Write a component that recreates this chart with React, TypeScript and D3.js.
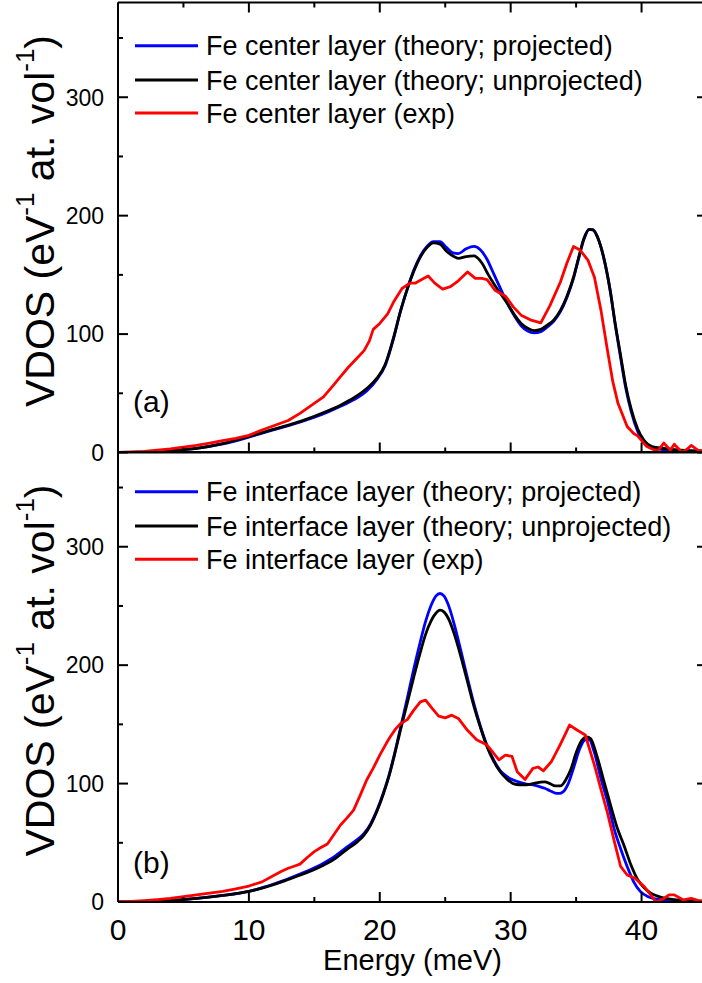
import React from "react";
import * as d3 from "d3";

// ---------- DATA (Energy meV, VDOS) ----------
const centerProjected: [number, number][] = [
  [0, 0], [2, 0.3], [4, 1.5], [6, 3.5], [8, 7.2], [10, 13], [12, 19.5], [14, 26], [16, 34], [17, 39],
  [18, 44.5], [19, 52], [19.8, 62], [20.4, 73], [21, 94], [21.6, 120], [22.1, 138], [22.6, 154],
  [23.1, 166], [23.6, 174], [24.1, 178], [24.6, 178], [25.1, 173], [25.6, 168.5], [26.0, 168],
  [26.6, 172], [27.2, 174], [27.7, 171], [28.2, 163], [28.7, 151], [29.2, 139], [29.7, 127],
  [30.3, 115], [30.8, 107], [31.3, 102.5], [31.8, 101], [32.3, 102], [32.8, 106], [33.3, 111],
  [33.8, 119], [34.3, 131], [34.8, 147], [35.2, 164], [35.6, 180], [36.0, 188.5], [36.3, 188],
  [36.7, 180], [37.1, 165], [37.6, 137], [38.0, 107], [38.4, 80], [38.8, 54], [39.2, 35],
  [39.7, 18], [40.2, 8], [40.8, 4], [41.7, 2.5], [43, 1.5], [45, 1],
];
const centerUnprojected: [number, number][] = [
  [0, 0], [2, 0.3], [4, 1.5], [6, 3.5], [8, 7.5], [10, 13.5], [12, 20], [14, 26.5], [16, 35], [17, 40],
  [18, 46], [19, 54], [19.8, 63], [20.4, 74], [21, 95], [21.6, 120], [22.1, 138], [22.6, 153],
  [23.1, 165], [23.6, 173], [24.1, 177], [24.6, 176], [25.1, 170], [25.6, 166], [26.0, 164],
  [26.6, 165.5], [27.2, 166], [27.8, 160], [28.3, 150], [28.8, 141], [29.3, 133], [29.8, 125],
  [30.3, 116], [30.8, 109], [31.3, 105], [31.8, 103], [32.3, 104], [32.8, 107.5], [33.3, 112],
  [33.8, 120], [34.3, 132], [34.8, 148], [35.2, 165], [35.6, 181], [36.0, 188.5], [36.3, 188],
  [36.7, 180], [37.1, 165], [37.6, 137], [38.0, 108], [38.4, 82], [38.8, 56], [39.2, 37],
  [39.7, 20], [40.2, 10], [40.8, 5], [41.7, 3.5], [43, 2], [45, 1],
];
const centerExp: [number, number][] = [
  [0, 0], [1, 0.5], [2, 1], [3, 2], [4, 3], [5, 4.5], [6, 6], [7, 8], [8, 10], [9, 12], [10, 14.5],
  [11, 19], [12, 23], [13, 27], [13.9, 33], [14.8, 40], [15.7, 47], [16.4, 56], [17, 64], [17.6, 72],
  [18.2, 79], [18.8, 86], [19.2, 94], [19.5, 104], [20.0, 109], [20.6, 117], [21.1, 128],
  [21.7, 138.5], [22.3, 143], [22.7, 143], [23.2, 146], [23.7, 149], [24.2, 143], [24.8, 138],
  [25.4, 140], [26.0, 145], [26.7, 152.5], [27.3, 147], [27.8, 147], [28.2, 146], [28.8, 137],
  [29.6, 132], [30.2, 123], [30.8, 116], [31.5, 112], [32.3, 109.5], [33.0, 124], [33.8, 144],
  [34.3, 160], [34.8, 174], [35.3, 171], [35.9, 162.5], [36.4, 148], [36.9, 120], [37.4, 86],
  [37.8, 60], [38.2, 41.5], [38.9, 22], [39.4, 16], [39.7, 14], [40.4, 5], [41.2, 1], [41.7, 8],
  [42.2, 2], [42.5, 7], [43.1, 0], [43.5, 3], [43.8, 6], [44.3, 2], [45, 1],
];

const interfaceProjected: [number, number][] = [
  [0, 0], [2, 0.3], [4, 1.2], [6, 3], [8, 5.5], [10, 9], [12, 15.5], [14, 24], [15.5, 31.5],
  [16.5, 38], [17.5, 46.5], [18.3, 53], [18.8, 58], [19.3, 66], [19.8, 78], [20.3, 93], [20.7, 107],
  [21.1, 124], [21.6, 148], [22.1, 172], [22.6, 197], [23.1, 220], [23.5, 237], [23.9, 250],
  [24.3, 258.5], [24.6, 260.5], [24.9, 258.5], [25.3, 249], [25.7, 234], [26.2, 212], [26.7, 189],
  [27.2, 167], [27.7, 148], [28.2, 132], [28.7, 120], [29.2, 111], [29.7, 106], [30.2, 103],
  [30.7, 101], [31.2, 99.5], [31.7, 99], [32.2, 97.5], [32.6, 96], [33.0, 94], [33.4, 92],
  [33.7, 91.7], [34.0, 93], [34.4, 100], [34.8, 113], [35.3, 130], [35.7, 137], [36.0, 137],
  [36.4, 126], [36.9, 104], [37.4, 85], [37.9, 62], [38.4, 45], [38.9, 30], [39.4, 17], [39.9, 9],
  [40.5, 4.5], [41.5, 2], [42.5, 1], [45, 0.3],
];
const interfaceUnprojected: [number, number][] = [
  [0, 0], [2, 0.3], [4, 1.2], [6, 3], [8, 5.5], [10, 9], [12, 15], [13, 19], [14, 23], [15.5, 30],
  [16.5, 36], [17.5, 44.5], [18.3, 51], [18.8, 56.5], [19.3, 65], [19.8, 77], [20.3, 92], [20.7, 106],
  [21.1, 123], [21.6, 146], [22.1, 168], [22.6, 190], [23.1, 211], [23.5, 226], [23.9, 237],
  [24.3, 244], [24.6, 246.5], [24.9, 245], [25.3, 238], [25.7, 226], [26.2, 207], [26.7, 186],
  [27.2, 165], [27.7, 147], [28.2, 131], [28.7, 119], [29.2, 110], [29.7, 104], [30.2, 100],
  [30.7, 99], [31.2, 99], [31.7, 100], [32.2, 101], [32.6, 101.5], [33.0, 100], [33.4, 98],
  [33.8, 98], [34.2, 103], [34.6, 112], [35.0, 126], [35.4, 136], [35.8, 139.5], [36.1, 138],
  [36.6, 123], [37.1, 103], [37.6, 83], [38.1, 64], [38.7, 46.5], [39.2, 31], [39.7, 19],
  [40.2, 12], [40.7, 7.5], [41.5, 4], [42.5, 2], [45, 0.5],
];
const interfaceExp: [number, number][] = [
  [0, 0], [1, 0.5], [2, 1.2], [3, 2], [4, 3], [5, 4.5], [6, 6], [7, 7.5], [8, 9], [9, 11], [10, 13.5],
  [11, 17], [12, 23], [12.5, 26], [13, 28.5], [13.4, 30], [13.9, 32], [14.5, 38], [15.0, 42.5],
  [15.5, 46], [16.0, 49], [16.5, 57], [17.0, 65], [17.5, 71], [18.0, 77.6], [18.5, 90], [19.0, 103],
  [19.5, 113], [20.0, 124], [20.5, 134], [20.8, 139.5], [21.2, 146], [21.6, 150.8], [22.1, 154],
  [22.6, 162], [23.1, 169], [23.5, 170.5], [24.0, 163.5], [24.5, 157], [25.0, 155.5], [25.5, 157.8],
  [26.0, 155], [26.7, 145], [27.4, 137], [28.2, 132.5], [28.6, 127], [29.1, 120], [29.6, 124],
  [30.1, 123], [30.5, 110], [31.1, 103.5], [31.7, 112.8], [32.1, 114], [32.5, 110.8], [33.1, 118.4],
  [33.7, 131], [34.1, 140], [34.5, 149.4], [35.1, 145], [35.7, 141], [36.4, 115.6], [36.9, 95],
  [37.4, 75], [37.9, 52], [38.4, 30], [38.9, 22.8], [39.5, 20], [40.2, 13], [40.7, 6], [41.1, 0],
  [41.7, 3], [42.1, 6], [42.5, 6], [43.2, 1.7], [43.8, 3], [44.4, 1], [45, 1],
];

const xMajorTicks = [0, 10, 20, 30, 40];
const xMinorTicks = [5, 15, 25, 35, 45];
const yMajorTicks = [0, 100, 200, 300];
const yMinorTicks = [50, 150, 250, 350];

const topLegend = [
  "Fe center layer (theory; projected)",
  "Fe center layer (theory; unprojected)",
  "Fe center layer (exp)",
];
const bottomLegend = [
  "Fe interface layer (theory; projected)",
  "Fe interface layer (theory; unprojected)",
  "Fe interface layer (exp)",
];
const colors = ["#0000ff", "#000000", "#ff0000"];

// ---------- LAYOUT ----------
const W = 702;
const H = 983;
const L = 118;
const R = 707;
const FONT = "'Liberation Sans', Arial, Helvetica, sans-serif";

const x = d3.scaleLinear().domain([0, 45]).range([L, R]);

type PanelProps = {
  y: d3.ScaleLinear<number, number>;
  series: [number, number][][];
  legend: string[];
  legendY: number[];
  tag: string;
  tagY: number;
  titleY: number;
  topTicks: boolean;
  id: string;
};

function Panel({ y, series, legend, legendY, tag, tagY, titleY, topTicks, id }: PanelProps) {
  const [y0, y1] = y.range();
  const smooth = d3.line<[number, number]>().x((d) => x(d[0])).y((d) => y(d[1])).curve(d3.curveMonotoneX);
  const jagged = d3.line<[number, number]>().x((d) => x(d[0])).y((d) => y(d[1]));
  const ax = { stroke: "#000", strokeWidth: 2 };
  return (
    <g>
      <defs>
        <clipPath id={id}>
          <rect x={L} y={y1} width={R - L} height={y0 - y1} />
        </clipPath>
      </defs>
      <g clipPath={`url(#${id})`} fill="none" strokeWidth={2.8} strokeLinejoin="round">
        <path d={smooth(series[0]) || ""} stroke={colors[0]} />
        <path d={smooth(series[1]) || ""} stroke={colors[1]} />
        <path d={jagged(series[2]) || ""} stroke={colors[2]} />
      </g>
      {/* frame */}
      <line x1={L} x2={L} y1={y0} y2={y1} {...ax} />
      <line x1={L} x2={R} y1={y0} y2={y0} {...ax} />
      <line x1={L} x2={R} y1={y1} y2={y1} {...ax} />
      <line x1={R} x2={R} y1={y0} y2={y1} {...ax} />
      {/* y ticks */}
      {yMajorTicks.map((t) => (
        <g key={"ym" + t}>
          <line x1={L} x2={L + 10} y1={y(t)} y2={y(t)} {...ax} />
          <line x1={R} x2={R - 10} y1={y(t)} y2={y(t)} {...ax} />
          <text x={104} y={y(t)} dy="0.36em" textAnchor="end" fontSize={23} fontFamily={FONT}>
            {t}
          </text>
        </g>
      ))}
      {yMinorTicks.map((t) => (
        <g key={"yn" + t}>
          <line x1={L} x2={L + 5} y1={y(t)} y2={y(t)} {...ax} />
          <line x1={R} x2={R - 5} y1={y(t)} y2={y(t)} {...ax} />
        </g>
      ))}
      {/* x ticks */}
      {xMajorTicks.map((t) => (
        <g key={"xm" + t}>
          <line x1={x(t)} x2={x(t)} y1={y0} y2={y0 - 10} {...ax} />
          {topTicks && <line x1={x(t)} x2={x(t)} y1={y1} y2={y1 + 10} {...ax} />}
        </g>
      ))}
      {xMinorTicks.map((t) => (
        <g key={"xn" + t}>
          <line x1={x(t)} x2={x(t)} y1={y0} y2={y0 - 5} {...ax} />
          {topTicks && <line x1={x(t)} x2={x(t)} y1={y1} y2={y1 + 5} {...ax} />}
        </g>
      ))}
      {/* legend */}
      {legend.map((s, i) => (
        <g key={s}>
          <line x1={135} x2={198} y1={legendY[i]} y2={legendY[i]} stroke={colors[i]} strokeWidth={3} />
          <text x={206} y={legendY[i]} dy="0.36em" fontSize={27} fontFamily={FONT}>
            {s}
          </text>
        </g>
      ))}
      <text x={133} y={tagY} fontSize={30} fontFamily={FONT}>
        {tag}
      </text>
      {/* y title */}
      <text
        transform={`translate(54,${titleY}) rotate(-90)`}
        textAnchor="middle"
        fontSize={41}
        fontFamily={FONT}
      >
        VDOS (eV
        <tspan fontSize={26} dy={-20}>-1</tspan>
        <tspan dy={20}> at. vol</tspan>
        <tspan fontSize={26} dy={-20}>-1</tspan>
        <tspan dy={20}>)</tspan>
      </text>
    </g>
  );
}

export default function App() {
  const yTop = d3.scaleLinear().domain([0, 380]).range([452.5, 2.5]);
  const yBot = d3.scaleLinear().domain([0, 380]).range([902, 452]);
  return (
    <svg
      width={W}
      height={H}
      viewBox={`0 0 ${W} ${H}`}
      style={{ position: "absolute", left: 0, top: 0, background: "#fff" }}
    >
      <rect x={0} y={0} width={W} height={H} fill="#fff" />
      <Panel
        id="clipTop"
        y={yTop}
        series={[centerProjected, centerUnprojected, centerExp]}
        legend={topLegend}
        legendY={[45.7, 80, 113]}
        tag="(a)"
        tagY={412}
        titleY={221}
        topTicks={true}
      />
      <Panel
        id="clipBot"
        y={yBot}
        series={[interfaceProjected, interfaceUnprojected, interfaceExp]}
        legend={bottomLegend}
        legendY={[491.7, 526, 559.3]}
        tag="(b)"
        tagY={873}
        titleY={670.5}
        topTicks={false}
      />
      {xMajorTicks.map((t) => (
        <text key={"xl" + t} x={x(t)} y={940} textAnchor="middle" fontSize={30} fontFamily={FONT}>
          {t}
        </text>
      ))}
      <text x={(L + R) / 2} y={970} textAnchor="middle" fontSize={29} fontFamily={FONT}>
        Energy (meV)
      </text>
    </svg>
  );
}
